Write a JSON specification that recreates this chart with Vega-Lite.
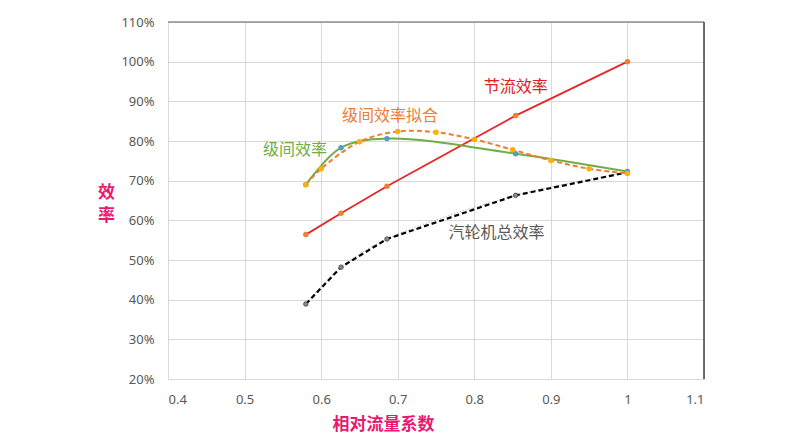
{
  "$schema": "https://vega.github.io/schema/vega-lite/v6.json",
  "width": 536,
  "height": 357,
  "autosize": "none",
  "padding": {"left": 168, "top": 22, "right": 103, "bottom": 56},
  "background": "white",
  "config": {
    "view": {"stroke": null},
    "font": "Noto Sans",
    "axis": {
      "grid": true,
      "gridColor": "#d9d9d9",
      "gridWidth": 1,
      "domainColor": "#d9d9d9",
      "domainWidth": 1,
      "ticks": false,
      "tickSize": 0,
      "labelFont": "Noto Sans",
      "labelFontSize": 13,
      "labelColor": "#595959",
      "titleFont": "Noto Sans CJK SC",
      "titleFontSize": 17,
      "titleFontWeight": "bold",
      "titleColor": "#e8196e"
    }
  },
  "datasets": {
    "total": [
      {"x": 0.58, "y": 0.389},
      {"x": 0.626, "y": 0.482},
      {"x": 0.686, "y": 0.553},
      {"x": 0.854, "y": 0.663},
      {"x": 1.0, "y": 0.721}
    ],
    "throttle": [
      {"x": 0.58, "y": 0.564},
      {"x": 0.626, "y": 0.618},
      {"x": 0.686, "y": 0.686},
      {"x": 0.854, "y": 0.864},
      {"x": 1.0, "y": 1.0}
    ],
    "stage": [
      {"x": 0.58, "y": 0.69},
      {"x": 0.626, "y": 0.783},
      {"x": 0.686, "y": 0.806},
      {"x": 0.854, "y": 0.768},
      {"x": 1.0, "y": 0.723}
    ],
    "fit": [
      {"x": 0.58, "y": 0.69},
      {"x": 0.6, "y": 0.73},
      {"x": 0.65, "y": 0.798},
      {"x": 0.7, "y": 0.824},
      {"x": 0.75, "y": 0.822},
      {"x": 0.8, "y": 0.804},
      {"x": 0.85, "y": 0.778},
      {"x": 0.9, "y": 0.751},
      {"x": 0.95, "y": 0.73},
      {"x": 1.0, "y": 0.718}
    ],
    "labels": [
      {"x": 0.854, "y": 0.935, "label": "节流效率", "series": "throttle"},
      {"x": 0.69, "y": 0.862, "label": "级间效率拟合", "series": "fit"},
      {"x": 0.566, "y": 0.778, "label": "级间效率", "series": "stage"},
      {"x": 0.829, "y": 0.569, "label": "汽轮机总效率", "series": "total"}
    ],
    "frameTop": [
      {"x": 0.4, "x2": 1.1, "y": 1.1, "y2": 1.1}
    ],
    "frameRight": [
      {"x": 1.1, "x2": 1.1, "y": 0.2, "y2": 1.1}
    ]
  },
  "encoding": {
    "x": {
      "field": "x",
      "type": "quantitative",
      "scale": {"domain": [0.4, 1.1], "nice": false, "zero": false},
      "axis": {
        "values": [0.4, 0.5, 0.6, 0.7, 0.8, 0.9, 1.0, 1.1],
        "format": "~g",
        "labelPadding": 14,
        "title": "相对流量系数",
        "titleX": 215,
        "titleY": 45,
        "titleAlign": "center",
        "titleBaseline": "middle"
      }
    },
    "y": {
      "field": "y",
      "type": "quantitative",
      "scale": {"domain": [0.2, 1.1], "nice": false, "zero": false},
      "axis": {
        "values": [0.2, 0.3, 0.4, 0.5, 0.6, 0.7, 0.8, 0.9, 1.0, 1.1],
        "format": ".0%",
        "labelPadding": 14,
        "title": ["效", "率"],
        "titleAngle": 0,
        "titleX": -62,
        "titleY": 170,
        "titleAlign": "center",
        "titleBaseline": "middle",
        "titleLineHeight": 23
      }
    }
  },
  "layer": [
    {
      "data": {"name": "total"},
      "mark": {"type": "line", "interpolate": "catmull-rom", "color": "#a6a6a6", "strokeWidth": 1, "strokeDash": [1, 2]}
    },
    {
      "data": {"name": "total"},
      "mark": {"type": "line", "color": "#000000", "strokeWidth": 2.2, "strokeDash": [5, 3]}
    },
    {
      "data": {"name": "total"},
      "mark": {"type": "point", "filled": true, "fill": "#8c8c8c", "stroke": "#404040", "strokeWidth": 0.8, "size": 20, "opacity": 1}
    },
    {
      "data": {"name": "throttle"},
      "mark": {"type": "line", "color": "#e8262a", "strokeWidth": 1.8}
    },
    {
      "data": {"name": "throttle"},
      "mark": {"type": "point", "filled": true, "color": "#f08030", "size": 30, "opacity": 1}
    },
    {
      "data": {"name": "stage"},
      "mark": {"type": "line", "interpolate": "catmull-rom", "color": "#70ad47", "strokeWidth": 2}
    },
    {
      "data": {"name": "stage"},
      "mark": {"type": "point", "filled": true, "color": "#4f9fbf", "size": 30, "opacity": 1}
    },
    {
      "data": {"name": "fit"},
      "mark": {"type": "line", "interpolate": "catmull-rom", "color": "#ed7d31", "strokeWidth": 2, "strokeDash": [5, 3]}
    },
    {
      "data": {"name": "fit"},
      "mark": {"type": "point", "filled": true, "color": "#ffb000", "size": 30, "opacity": 1}
    },
    {
      "data": {"name": "labels"},
      "mark": {"type": "text", "font": "Noto Sans CJK SC", "fontSize": 16, "align": "center", "baseline": "middle"},
      "encoding": {
        "text": {"field": "label"},
        "color": {
          "field": "series",
          "type": "nominal",
          "scale": {"domain": ["throttle", "fit", "stage", "total"], "range": ["#e02020", "#ed7d31", "#70ad47", "#595959"]},
          "legend": null
        }
      }
    },
    {
      "data": {"name": "frameTop"},
      "mark": {"type": "rule", "strokeWidth": 1.5, "color": "#8c8c8c"},
      "encoding": {
        "x2": {"field": "x2"},
        "y2": {"field": "y2"}
      }
    },
    {
      "data": {"name": "frameRight"},
      "mark": {"type": "rule", "strokeWidth": 1.5, "color": "#404040"},
      "encoding": {
        "x2": {"field": "x2"},
        "y2": {"field": "y2"}
      }
    }
  ]
}
